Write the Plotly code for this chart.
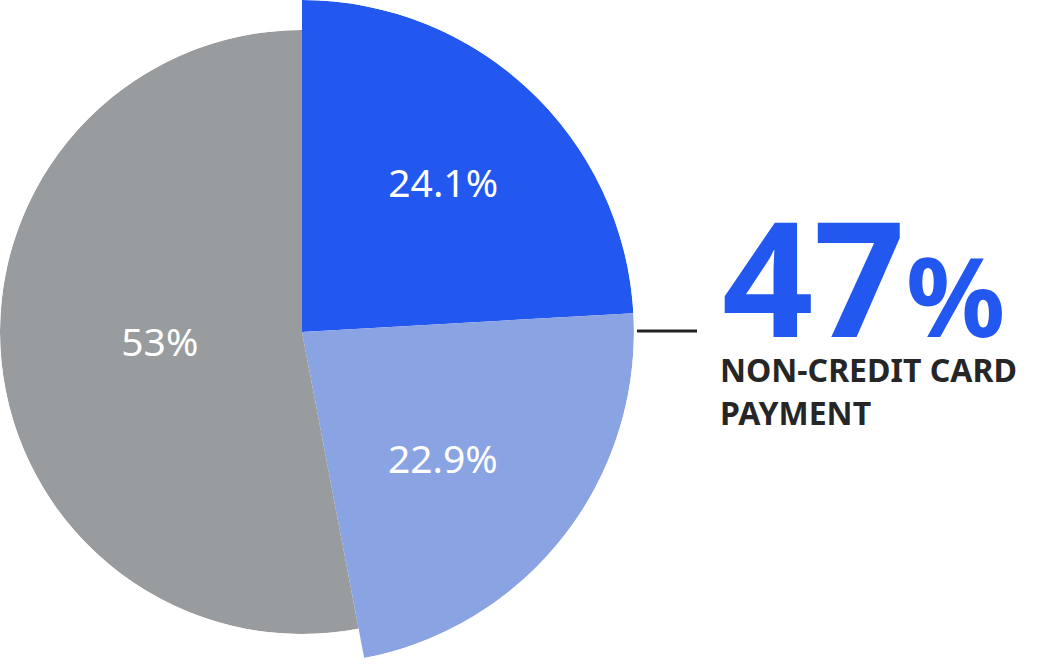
import numpy as np
import plotly.graph_objects as go

# ---- data ----
labels = ["24.1%", "22.9%", "53%"]
values = [24.1, 22.9, 53.0]
colors = ["#2258F0", "#8AA3E3", "#989C9E"]
headline_number = "47"
headline_unit = "%"
headline_caption = ["NON-CREDIT CARD", "PAYMENT"]

W, H = 1051, 664
total = sum(values)
deg = [v / total * 360 for v in values]
starts = np.concatenate([[0], np.cumsum(deg)[:-1]])
mids = [s + d / 2 for s, d in zip(starts, deg)]

fig = go.Figure()

# blue slices (larger radius) on the right-half polar subplot
fig.add_trace(go.Barpolar(
    r=[1, 1], theta=mids[:2], width=deg[:2], base=0,
    marker=dict(color=colors[:2], line=dict(width=0)),
    subplot="polar", hoverinfo="skip", showlegend=False,
))
# gray slice on the full polar subplot
fig.add_trace(go.Barpolar(
    r=[1], theta=[mids[2]], width=[deg[2]], base=0,
    marker=dict(color=[colors[2]], line=dict(width=0)),
    subplot="polar2", hoverinfo="skip", showlegend=False,
))

# slice labels
label_font = dict(family="Noto Sans", size=39, color="white")
fig.add_trace(go.Scatterpolar(
    r=[0.61, 0.58], theta=[44.2, 133.0], mode="text", text=labels[:2],
    textfont=label_font,
    subplot="polar", hoverinfo="skip", showlegend=False, cliponaxis=False,
))
fig.add_trace(go.Scatterpolar(
    r=[0.473], theta=[264.4], mode="text", text=[labels[2]],
    textfont=label_font,
    subplot="polar2", hoverinfo="skip", showlegend=False, cliponaxis=False,
))

polar_common = dict(
    bgcolor="rgba(0,0,0,0)",
    hole=0,
    radialaxis=dict(visible=False, range=[0, 1]),
    angularaxis=dict(visible=False, rotation=90, direction="clockwise"),
)

fig.update_layout(
    width=W, height=H,
    margin=dict(l=0, r=0, t=0, b=0),
    paper_bgcolor="white",
    plot_bgcolor="white",
    polar=dict(domain=dict(x=[302 / W, 634 / W], y=[0, 1]), sector=[-90, 90], **polar_common),
    polar2=dict(domain=dict(x=[0, 604 / W], y=[0, 1]), sector=[0, 360], **polar_common),
)

# connector line
fig.add_shape(type="line", xref="paper", yref="paper",
              x0=637 / W, x1=697 / W, y0=1 - 331 / H, y1=1 - 331 / H,
              line=dict(color="#222222", width=3))

fig.add_annotation(text=headline_number, xref="paper", yref="paper",
                   x=720 / W, y=1 - 275 / H, xanchor="left", yanchor="middle",
                   height=130, valign="middle",
                   showarrow=False,
                   font=dict(family="Noto Sans", size=160, color="#2258F0", weight=700))
fig.add_annotation(text=headline_unit, xref="paper", yref="paper",
                   x=904 / W, y=1 - 294 / H, xanchor="left", yanchor="middle",
                   height=90, valign="middle",
                   showarrow=False,
                   font=dict(family="Noto Sans", size=110, color="#2258F0", weight=700))
for i, line in enumerate(headline_caption):
    fig.add_annotation(text=line, xref="paper", yref="paper",
                       x=718 / W, y=1 - (369 + 43 * i) / H, xanchor="left", yanchor="middle",
                       height=30, valign="middle",
                       showarrow=False,
                       font=dict(family="Noto Sans", size=32, color="#262626", weight=700))

fig.write_html("out.html", config={"displayModeBar": False},
               post_script="document.body.style.margin='0';")
